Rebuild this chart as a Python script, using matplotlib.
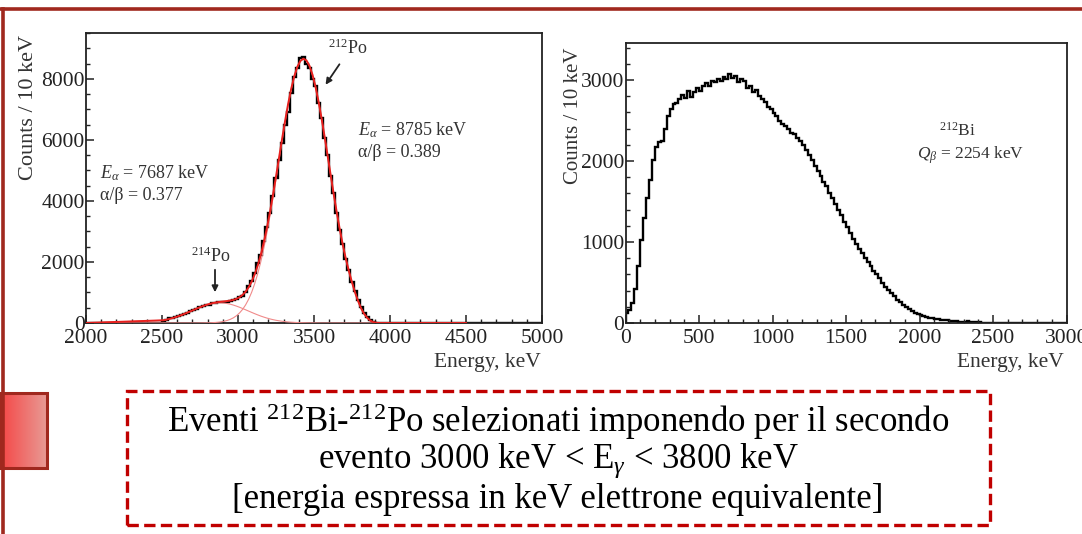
import numpy as np
import matplotlib
matplotlib.use("Agg")
import matplotlib.pyplot as plt
from matplotlib.patches import Rectangle, FancyArrowPatch
from matplotlib.lines import Line2D
from matplotlib.ticker import MultipleLocator

plt.rcParams['font.family'] = ['Liberation Serif', 'DejaVu Serif']
plt.rcParams['mathtext.fontset'] = 'custom'
plt.rcParams['mathtext.rm'] = 'Liberation Serif'
plt.rcParams['mathtext.it'] = 'Liberation Serif:italic'
plt.rcParams['mathtext.bf'] = 'Liberation Serif:bold'

# ---------------- data: left panel (212Po / 214Po alpha peaks) ----------------
po_edges = np.arange(2500, 3961, 20)          # 20 keV bins
po_counts = [60, 110, 150, 150, 210, 240, 250, 300, 330, 400, 440, 460, 530, 560,
             580, 600, 650, 660, 690, 690, 700, 700, 720, 740, 800, 850, 900, 1000,
             1200, 1380, 1650, 1950, 2230, 2700, 3150, 3600, 4150, 4750, 5350, 5900,
             6500, 6900, 7550, 8050, 8350, 8680, 8720, 8500, 8350, 8000, 7750, 7200,
             6700, 6050, 5500, 4800, 4250, 3600, 3050, 2600, 2100, 1750, 1350, 1050,
             750, 520, 320, 190, 100, 40, 10, 0, 0]
fit_po214 = [89, 110, 134, 162, 193, 227, 265, 305, 347, 390, 433, 475, 516, 553,
             586, 615, 636, 651, 659, 659, 651, 636, 615, 586, 553, 516, 475, 433,
             390, 347, 305, 265, 227, 193, 162, 134, 110, 89, 72, 57, 44, 34, 26, 20,
             15, 11, 8, 6, 4, 3, 2, 1, 0, 0, 0, 0, 0, 0, 0, 0, 0, 0, 0, 0, 0, 0, 0, 0,
             0, 0, 0, 0, 0]
fit_po212 = [0, 0, 0, 0, 0, 0, 0, 0, 0, 0, 0, 1, 2, 3, 5, 7, 11, 17, 26, 39, 58, 85,
             121, 171, 239, 329, 445, 593, 779, 1009, 1289, 1620, 2008, 2453, 2950,
             3499, 4089, 4708, 5341, 5973, 6581, 7146, 7645, 8060, 8374, 8573, 8650,
             8598, 8424, 8132, 7736, 7251, 6699, 6097, 5469, 4835, 4211, 3614, 3056,
             2547, 2092, 1694, 1330, 1000, 720, 480, 300, 170, 80, 30, 8, 0, 0]
fit_range = [2000, 4500]
po_xlim = [2000, 5000]
po_ylim = [0, 9500]

# ---------------- data: right panel (212Bi beta spectrum) ----------------
bi_edges = np.arange(0, 3001, 20)
bi_counts = [120, 160, 250, 420, 700, 1020, 1300, 1540, 1760, 2010, 2170, 2240, 2250,
             2400, 2560, 2640, 2700, 2720, 2760, 2820, 2780, 2870, 2790, 2850, 2900,
             2870, 2920, 2960, 2930, 2990, 2970, 3010, 2990, 3040, 3010, 3080, 3020,
             3050, 2970, 3010, 2990, 2900, 2930, 2850, 2880, 2800, 2760, 2730, 2670,
             2640, 2590, 2550, 2490, 2460, 2430, 2400, 2350, 2330, 2290, 2250, 2200,
             2130, 2070, 2010, 1940, 1880, 1810, 1740, 1690, 1610, 1540, 1470, 1390,
             1330, 1250, 1180, 1110, 1040, 970, 910, 860, 800, 750, 700, 640, 600, 550,
             500, 450, 410, 370, 330, 290, 260, 225, 200, 175, 150, 128, 112, 98, 86,
             75, 66, 58, 51, 45, 40, 35, 31, 27, 24, 21, 18, 16, 14, 22, 11, 18, 8, 7,
             5, 4, 4, 3, 3, 2, 2, 2, 1, 1, 1, 1, 1, 1, 1, 1, 0, 0, 0, 0, 0, 0, 0, 0, 0,
             0, 0, 0, 0]
bi_xlim = [0, 3000]
bi_ylim = [0, 3457]

# ---------------- figure ----------------
W, H = 1082, 534
fig = plt.figure(figsize=(W / 100, H / 100), dpi=100)
fig.patch.set_facecolor('white')


def fx(px):
    return px / W


def fy(py):
    return 1 - py / H


TICK_FS = 15.5


def style_axes(ax):
    for s in ax.spines.values():
        s.set_linewidth(1.3)
        s.set_color('#222222')
    ax.tick_params(which='both', direction='in', top=False, right=False,
                   labelsize=TICK_FS, pad=1, colors='#222222')
    ax.tick_params(axis='x', which='both', pad=4.5)
    ax.tick_params(which='major', length=6, width=1.1)
    ax.tick_params(which='minor', length=3, width=1.0)


# left panel
axL = fig.add_axes([fx(86), fy(323), fx(542 - 86), (323 - 33) / H])
centers = (po_edges[:-1] + po_edges[1:]) / 2
edges_full = np.concatenate([[po_xlim[0]], po_edges, [po_xlim[1]]])
counts_full = np.concatenate([[0], po_counts, [0]])
axL.stairs(counts_full, edges_full, color='black', lw=1.7, zorder=2)
total = np.array(fit_po214) + np.array(fit_po212)
x_fit = np.concatenate([[fit_range[0]], centers, [fit_range[1]]])
axL.plot(x_fit, np.concatenate([[0], fit_po214, [0]]), color='#F08A8A', lw=0.8, zorder=3)
axL.plot(x_fit, np.concatenate([[0], fit_po212, [0]]), color='#F08A8A', lw=0.8, zorder=3)
axL.plot(x_fit, np.concatenate([[0], total, [0]]), color='#E8201E', lw=1.4, zorder=4)
axL.set_xlim(po_xlim)
axL.set_ylim(po_ylim)
axL.xaxis.set_major_locator(MultipleLocator(500))
axL.xaxis.set_minor_locator(MultipleLocator(100))
axL.yaxis.set_major_locator(MultipleLocator(2000))
axL.yaxis.set_minor_locator(MultipleLocator(500))
style_axes(axL)

# right panel
axR = fig.add_axes([fx(625.5), fy(323), fx(1066.5 - 625.5), (323 - 43) / H])
axR.stairs(bi_counts, bi_edges, color='black', lw=1.7)
axR.set_xlim(bi_xlim)
axR.set_ylim(bi_ylim)
axR.xaxis.set_major_locator(MultipleLocator(500))
axR.xaxis.set_minor_locator(MultipleLocator(100))
axR.yaxis.set_major_locator(MultipleLocator(1000))
axR.yaxis.set_minor_locator(MultipleLocator(200))
style_axes(axR)

# axis labels (ROOT style: aligned to the ends)
tc = '#333333'
fig.text(fx(29), fy(35), 'Counts / 10 keV', rotation=90, ha='center', va='top',
         fontsize=16, color=tc)
fig.text(fx(573), fy(47), 'Counts / 10 keV', rotation=90, ha='center', va='top',
         fontsize=15, color=tc)
fig.text(fx(541), fy(363), 'Energy, keV', ha='right', va='center', fontsize=15.5, color=tc)
fig.text(fx(1064), fy(363), 'Energy, keV', ha='right', va='center', fontsize=15.5, color=tc)

# annotations left
AFS = 13
fig.text(fx(100), fy(173), r'$E_{\alpha}$ = 7687 keV', ha='left', va='center', fontsize=AFS, color=tc)
fig.text(fx(100), fy(195), 'α/β = 0.377', ha='left', va='center', fontsize=AFS, color=tc)
fig.text(fx(358), fy(130), r'$E_{\alpha}$ = 8785 keV', ha='left', va='center', fontsize=AFS, color=tc)
fig.text(fx(358), fy(153), 'α/β = 0.389', ha='left', va='center', fontsize=AFS, color=tc)
fig.text(fx(211), fy(256), r'$^{214}$Po', ha='center', va='center', fontsize=AFS, color=tc)
fig.text(fx(348), fy(48), r'$^{212}$Po', ha='center', va='center', fontsize=AFS, color=tc)
fig.add_artist(FancyArrowPatch(
    (fx(215), fy(267)), (fx(215), fy(295)), transform=fig.transFigure,
    arrowstyle='-|>', mutation_scale=9, lw=1.3, color='#222222'))
fig.add_artist(FancyArrowPatch(
    (fx(341), fy(62)), (fx(324), fy(87)), transform=fig.transFigure,
    arrowstyle='-|>', mutation_scale=9, lw=1.3, color='#222222'))

# annotations right
fig.text(fx(957), fy(131), r'$^{212}$Bi', ha='center', va='center', fontsize=12.5, color=tc)
fig.text(fx(971), fy(155), r'$Q_{\beta}$ = 2254 keV', ha='center', va='center', fontsize=12.5, color=tc)

# ---------------- slide decorations ----------------
frame_col = '#A0281E'
fig.add_artist(Line2D([0, 1], [fy(9), fy(9)], transform=fig.transFigure,
                      color=frame_col, lw=2.6))
fig.add_artist(Line2D([fx(2.5), fx(2.5)], [fy(9), 0], transform=fig.transFigure,
                      color=frame_col, lw=2.6))
# gradient rectangle
grad = np.linspace(0, 1, 64).reshape(1, -1)
cmap = matplotlib.colors.LinearSegmentedColormap.from_list('g', ['#F54646', '#E89A94'])
axG = fig.add_axes([0, fy(468), fx(47), (468 - 393) / H])
axG.imshow(grad, aspect='auto', cmap=cmap, extent=[0, 1, 0, 1])
axG.set_axis_off()
fig.add_artist(Rectangle((fx(0), fy(468)), fx(47), (468 - 393) / H,
                         transform=fig.transFigure, fill=False,
                         edgecolor=frame_col, lw=2.2))

# dashed text box
fig.add_artist(Rectangle((fx(127), fy(525)), fx(990 - 127), (525 - 391) / H,
                         transform=fig.transFigure, fill=False,
                         edgecolor='#C00000', lw=2.4, linestyle=(0, (3.4, 1.6))))
box_lines = [r'Eventi $^{212}$Bi-$^{212}$Po selezionati imponendo per il secondo',
             r'evento 3000 keV < E$_{\gamma}$ < 3800 keV',
             '[energia espressa in keV elettrone equivalente]']
for i, t in enumerate(box_lines):
    fig.text(fx(558), fy(422 + 39 * i), t, ha='center', va='center', fontsize=25,
             color='black')

fig.savefig('out.png', dpi=100, facecolor='white')
